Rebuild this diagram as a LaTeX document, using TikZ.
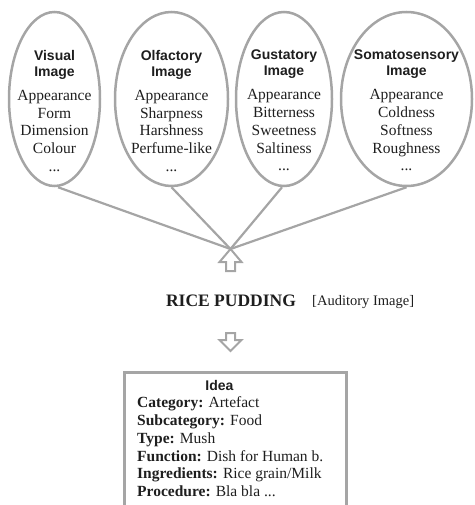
\documentclass[tikz,border=0pt]{standalone}
\usepackage{fontspec}
\setmainfont{Liberation Serif}
\setsansfont{Liberation Sans}
\usetikzlibrary{shapes.geometric}
\definecolor{edge}{HTML}{A5A5A5}
\definecolor{ink}{HTML}{1E1E1E}
\newcommand\hd[1]{{\sffamily\bfseries\fontsize{14}{16}\selectfont #1}}
\begin{document}
\begin{tikzpicture}[x=1pt,y=-1pt,
  sense/.style={ellipse, draw=edge, line width=2.5pt, inner sep=0pt},
  stxt/.style={align=center, anchor=north, inner sep=0pt, text=ink, font=\fontsize{15.5}{17.75}\selectfont},
  link/.style={draw=edge, line width=2.2pt},
  hollow/.style={draw=edge, line width=2pt, line join=miter},
  boxtxt/.style={align=left, anchor=north west, inner sep=0pt, text=ink, font=\fontsize{15.5}{17.8}\selectfont}]
\useasboundingbox (0,0) rectangle (474,505);
\clip (0,0) rectangle (474,505);
% sense ellipses
\node[sense, minimum width=91pt, minimum height=174pt] (v) at (54.5,99) {};
\node[sense, minimum width=113pt, minimum height=174pt] (o) at (171.5,99) {};
\node[sense, minimum width=96pt, minimum height=174pt] (g) at (284,99) {};
\node[sense, minimum width=131pt, minimum height=174pt] (s) at (406.5,99) {};
% texts
\node[stxt] (vt) at (54.5,50) {\hd{Visual}\\[-1.75pt]\hd{Image}\\[6.25pt]Appearance\\Form\\Dimension\\Colour\\...};
\node[stxt] (ot) at (171.5,50) {\hd{Olfactory}\\[-1.75pt]\hd{Image}\\[6.25pt]Appearance\\Sharpness\\Harshness\\Perfume-like\\...};
\node[stxt] (gt) at (284,50) {\hd{Gustatory}\\[-1.75pt]\hd{Image}\\[6.25pt]Appearance\\Bitterness\\Sweetness\\Saltiness\\...};
\node[stxt] (st) at (406.5,50) {\hd{Somatosensory}\\[-1.75pt]\hd{Image}\\[6.25pt]Appearance\\Coldness\\Softness\\Roughness\\...};
% convergence
\coordinate (c) at (230.5,249);
\draw[link] ([xshift=3.5pt]v.south) -- (c);
\draw[link] (o.south) -- (c);
\draw[link] ([xshift=-2pt]g.south) -- (c);
\draw[link] (s.south) -- (c);
\draw[hollow] (c) -- ++(11,13) -- ++(-6.5,0) -- ++(0,9) -- ++(-9,0) -- ++(0,-9) -- ++(-6.5,0) -- cycle;
% word
\node[font=\bfseries\fontsize{17.5}{20}\selectfont, anchor=base, text=ink, inner sep=0pt] (rp) at (231,306.5) {RICE PUDDING};
\node[font=\fontsize{14.5}{17}\selectfont, anchor=base west, text=ink, inner sep=0pt] (aud) at (312,305) {[Auditory Image]};
% down arrow
\coordinate (d) at (230.5,351);
\draw[hollow] (d) -- ++(11,-11) -- ++(-6.5,0) -- ++(0,-7) -- ++(-9,0) -- ++(0,7) -- ++(-6.5,0) -- cycle;
% idea box
\node[draw=edge, line width=2.5pt, minimum width=222pt, minimum height=160pt, anchor=north west, inner sep=0pt] (idea) at (123.25,371.25) {};
\node[font=\sffamily\bfseries\fontsize{14}{16}\selectfont, anchor=base, text=ink, inner sep=0pt] (ideat) at (219.5,390) {Idea};
\node[boxtxt] (ideab) at (137,396.5) {\textbf{Category:} Artefact\\\textbf{Subcategory:} Food\\\textbf{Type:} Mush\\\textbf{Function:} Dish for Human b.\\\textbf{Ingredients:} Rice grain/Milk\\\textbf{Procedure:} Bla bla ...};
\end{tikzpicture}
\end{document}
